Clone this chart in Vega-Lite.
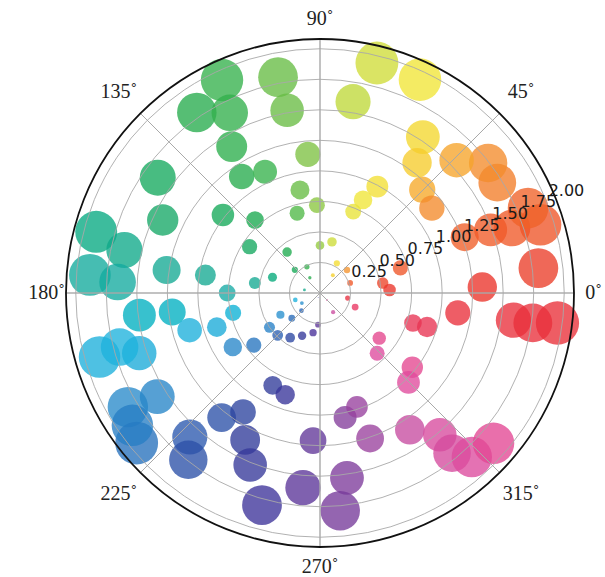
{
  "$schema": "https://vega.github.io/schema/vega-lite/v6.json",
  "width": 508,
  "height": 508,
  "autosize": {"type": "none"},
  "padding": {"left": 66, "top": 39, "right": 31, "bottom": 30},
  "background": "white",
  "config": {"view": {"stroke": null}},
  "datasets": {
    "points": [
      {"r":1.96,"theta":352.8},{"r":1.76,"theta":352.0},{"r":1.60,"theta":352.0},{"r":1.80,"theta":6.5},
      {"r":1.33,"theta":2.1},{"r":1.14,"theta":351.8},{"r":0.80,"theta":342.1},{"r":0.92,"theta":342.4},
      {"r":0.52,"theta":9.0},{"r":0.57,"theta":2.5},{"r":0.69,"theta":17.4},{"r":0.26,"theta":18.4},
      {"r":0.29,"theta":40.4},{"r":0.23,"theta":349.5},{"r":0.31,"theta":338.2},{"r":1.27,"theta":21.1},
      {"r":1.49,"theta":20.3},{"r":1.66,"theta":18.7},{"r":1.89,"theta":17.2},{"r":1.84,"theta":22.2},
      {"r":1.71,"theta":31.9},{"r":1.74,"theta":37.7},{"r":1.56,"theta":44.2},{"r":1.19,"theta":45.3},
      {"r":1.15,"theta":37.2},{"r":1.53,"theta":56.6},{"r":1.33,"theta":53.3},{"r":1.93,"theta":64.9},
      {"r":1.94,"theta":76.1},{"r":0.99,"theta":61.7},{"r":0.84,"theta":65.2},{"r":0.72,"theta":67.8},
      {"r":0.28,"theta":60.5},{"r":0.18,"theta":54.2},{"r":1.59,"theta":80.2},{"r":1.14,"theta":95.0},
      {"r":0.86,"theta":101.0},{"r":0.68,"theta":106.0},{"r":0.72,"theta":92.0},{"r":0.39,"theta":90.0},
      {"r":0.43,"theta":76.8},{"r":1.52,"theta":100.2},{"r":1.80,"theta":101.0},{"r":1.92,"theta":114.7},
      {"r":1.79,"theta":124.3},{"r":1.65,"theta":116.6},{"r":1.40,"theta":121.1},{"r":1.15,"theta":123.9},
      {"r":1.09,"theta":114.4},{"r":1.02,"theta":141.2},{"r":0.80,"theta":131.7},{"r":0.69,"theta":146.7},
      {"r":0.43,"theta":128.8},{"r":0.24,"theta":116.6},{"r":0.28,"theta":137.4},{"r":0.15,"theta":123.7},
      {"r":1.63,"theta":144.6},{"r":1.42,"theta":155.1},{"r":1.90,"theta":164.7},{"r":1.64,"theta":167.6},
      {"r":1.89,"theta":175.5},{"r":1.66,"theta":176.9},{"r":1.27,"theta":171.5},{"r":0.95,"theta":171.1},
      {"r":0.76,"theta":180.0},{"r":0.54,"theta":171.3},{"r":0.41,"theta":161.6},{"r":0.21,"theta":195.6},
      {"r":0.13,"theta":168.7},{"r":1.49,"theta":187.0},{"r":1.22,"theta":187.3},{"r":1.11,"theta":195.9},
      {"r":0.89,"theta":198.3},{"r":0.73,"theta":192.9},{"r":1.88,"theta":196.2},{"r":1.56,"theta":198.4},
      {"r":1.70,"theta":195.1},{"r":1.83,"theta":210.7},{"r":1.58,"theta":212.5},{"r":1.94,"theta":219.3},
      {"r":0.84,"theta":211.8},{"r":0.69,"theta":218.2},{"r":0.50,"theta":214.2},{"r":0.37,"theta":208.8},
      {"r":0.31,"theta":221.8},{"r":0.21,"theta":223.5},{"r":0.17,"theta":209.1},{"r":0.49,"theta":225.0},
      {"r":0.44,"theta":236.3},{"r":0.38,"theta":247.3},{"r":0.33,"theta":260.1},{"r":0.26,"theta":266.4},
      {"r":0.04,"theta":248.0},{"r":1.59,"theta":227.9},{"r":1.74,"theta":231.7},{"r":1.30,"theta":231.7},
      {"r":1.35,"theta":243.0},{"r":1.52,"theta":247.9},{"r":1.80,"theta":254.7},{"r":0.85,"theta":242.9},
      {"r":0.88,"theta":251.1},{"r":1.60,"theta":265.0},{"r":1.21,"theta":267.3},{"r":1.53,"theta":278.3},
      {"r":1.79,"theta":275.3},{"r":1.04,"theta":281.4},{"r":0.98,"theta":288.0},{"r":1.26,"theta":289.0},
      {"r":0.61,"theta":322.7},{"r":0.68,"theta":313.5},{"r":0.97,"theta":321.2},{"r":1.03,"theta":314.7},
      {"r":1.34,"theta":303.3},{"r":1.52,"theta":310.2},{"r":1.70,"theta":309.5},{"r":1.83,"theta":312.8},
      {"r":1.88,"theta":319.1},{"r":0.19,"theta":304.4},{"r":0.08,"theta":315.0},{"r":1.88,"theta":215.2},
      {"r":1.16,"theta":237.1}
    ],
    "rings": [{"r":0.25},{"r":0.5},{"r":0.75},{"r":1.0},{"r":1.25},{"r":1.5},{"r":1.75},{"r":2.0}],
    "spokes": [{"a":0},{"a":45},{"a":90},{"a":135},{"a":180},{"a":225},{"a":270},{"a":315}],
    "rlabels": [
      {"r":0.25,"label":"0.25"},{"r":0.5,"label":"0.50"},{"r":0.75,"label":"0.75"},{"r":1.0,"label":"1.00"},
      {"r":1.25,"label":"1.25"},{"r":1.5,"label":"1.50"},{"r":1.75,"label":"1.75"},{"r":2.0,"label":"2.00"}
    ],
    "alabelsAxis": [
      {"a":0,"label":"0˚"},{"a":90,"label":"90˚"},{"a":180,"label":"180˚"},{"a":270,"label":"270˚"}
    ],
    "alabelsDiag": [
      {"a":45,"label":"45˚"},{"a":135,"label":"135˚"},{"a":225,"label":"225˚"},{"a":315,"label":"315˚"}
    ]
  },
  "layer": [
    {
      "data": {"name": "points"},
      "transform": [
        {"calculate": "datum.r*cos(datum.theta*PI/180)", "as": "x"},
        {"calculate": "datum.r*sin(datum.theta*PI/180)", "as": "y"}
      ],
      "mark": {"type": "circle", "opacity": 0.78},
      "encoding": {
        "x": {"field": "x", "type": "quantitative", "scale": {"domain": [-2.08, 2.08], "nice": false, "zero": false}, "axis": null},
        "y": {"field": "y", "type": "quantitative", "scale": {"domain": [-2.08, 2.08], "nice": false, "zero": false}, "axis": null},
        "size": {"field": "r", "type": "quantitative", "scale": {"type": "pow", "exponent": 2, "domain": [0, 2], "range": [0, 1950]}, "legend": null},
        "color": {
          "field": "theta", "type": "quantitative", "legend": null,
          "scale": {
            "domain": [0, 20, 40, 55, 65, 78, 95, 110, 130, 155, 170, 180, 195, 210, 225, 240, 258, 268, 285, 300, 315, 330, 345, 360],
            "range": ["#e92d2a", "#ef5a28", "#f3922e", "#f5d42d", "#f1e537", "#c9dc3a", "#7dc242", "#3cb44a", "#1aa94e", "#16a866", "#17a98f", "#18aaa5", "#1db2dc", "#2a8ccc", "#2b60b2", "#2e3d9a", "#40309a", "#643898", "#8c3e9c", "#c04ba0", "#e14a9c", "#e6417f", "#e73348", "#e92d2a"]
          }
        }
      }
    },
    {
      "data": {"name": "rings"},
      "mark": {"type": "arc", "filled": false, "stroke": "#a8a8a8", "strokeWidth": 0.9, "theta": 0, "theta2": 6.2832},
      "encoding": {
        "radius": {"field": "r", "type": "quantitative", "stack": null, "scale": {"type": "linear", "domain": [0, 2.08], "range": [0, 254], "zero": true}}
      }
    },
    {
      "data": {"name": "spokes"},
      "mark": {"type": "arc", "filled": false, "stroke": "#a8a8a8", "strokeWidth": 0.9},
      "encoding": {
        "theta": {"field": "a", "type": "quantitative", "stack": null, "scale": {"domain": [0, 360], "range": [1.5708, -4.7124]}},
        "theta2": {"field": "a"},
        "radius": {"datum": 2.08, "type": "quantitative"}
      }
    },
    {
      "data": {"values": [{"r": 2.08}]},
      "mark": {"type": "arc", "filled": false, "stroke": "#111111", "strokeWidth": 1.8, "theta": 0, "theta2": 6.2832},
      "encoding": {
        "radius": {"field": "r", "type": "quantitative", "stack": null}
      }
    },
    {
      "data": {"name": "rlabels"},
      "mark": {"type": "text", "align": "left", "baseline": "bottom", "font": "DejaVu Sans", "fontSize": 16, "color": "#1a1a1a", "dx": 3, "dy": -1},
      "encoding": {
        "theta": {"datum": 22.5, "type": "quantitative"},
        "radius": {"field": "r", "type": "quantitative", "stack": null},
        "text": {"field": "label"}
      }
    },
    {
      "data": {"name": "alabelsAxis"},
      "mark": {"type": "text", "align": "center", "baseline": "middle", "font": "Liberation Serif", "fontSize": 20, "color": "#222222"},
      "encoding": {
        "theta": {"field": "a", "type": "quantitative", "stack": null},
        "radius": {"datum": 2.24, "type": "quantitative"},
        "text": {"field": "label"}
      }
    },
    {
      "data": {"name": "alabelsDiag"},
      "mark": {"type": "text", "align": "center", "baseline": "middle", "font": "Liberation Serif", "fontSize": 20, "color": "#222222"},
      "encoding": {
        "theta": {"field": "a", "type": "quantitative", "stack": null},
        "radius": {"datum": 2.33, "type": "quantitative"},
        "text": {"field": "label"}
      }
    }
  ]
}
